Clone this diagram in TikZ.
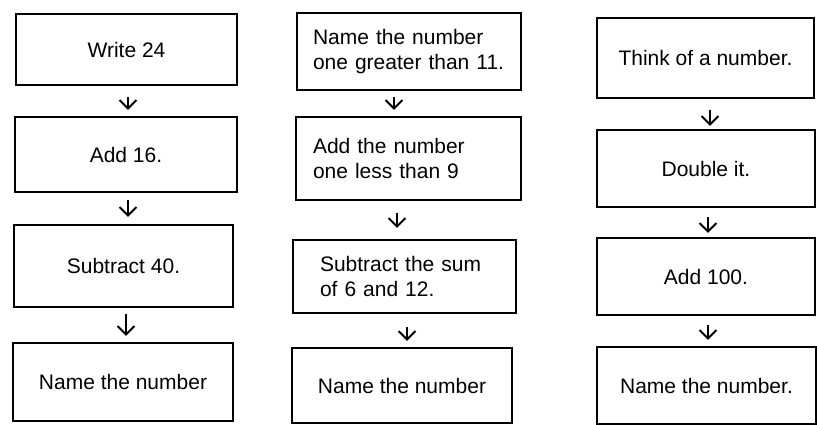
\documentclass[tikz,border=0pt]{standalone}
\usepackage{fontspec}
\setmainfont{Liberation Sans}
\usetikzlibrary{arrows.meta}
\begin{document}
\begin{tikzpicture}[x=1pt,y=-1pt,
  box/.style={draw, line width=2.1pt, inner sep=0pt, align=center,
    font=\fontsize{21}{25}\selectfont},
  lbox/.style={box, align=left},
  arr/.style={-{Straight Barb[length=8.5pt,width=17pt,line width=2pt]}, line width=2pt}]
\useasboundingbox (0,0) rectangle (817,425);
% column 1
\node[box, minimum width=221pt, minimum height=71pt] (A1) at (126.5,49.5) {Write 24};
\node[box, minimum width=222pt, minimum height=75pt] (A2) at (126,154.5) {Add 16.};
\node[box, minimum width=219pt, minimum height=82pt] (A3) at (123.5,266) {Subtract 40.};
\node[box, minimum width=220pt, minimum height=78pt] (A4) at (123,382) {Name the number};
% column 2
\node[lbox, text width=192pt, minimum width=224pt, minimum height=77pt] (B1) at (409,51.5) {Name the number\\one greater than 11.};
\node[lbox, text width=191pt, minimum width=225pt, minimum height=83pt] (B2) at (408.5,158.5) {Add the number\\one less than 9};
\node[lbox, text width=169pt, minimum width=223pt, minimum height=73pt] (B3) at (404.5,276.5) {Subtract the sum\\of 6 and 12.};
\node[box, minimum width=220pt, minimum height=75pt] (B4) at (402,385.5) {Name the number};
% column 3
\node[box, minimum width=217pt, minimum height=80pt] (C1) at (705.5,58) {Think of a number.};
\node[box, minimum width=218pt, minimum height=77pt] (C2) at (706,168.5) {Double it.};
\node[box, minimum width=218pt, minimum height=77pt] (C3) at (706,276.5) {Add 100.};
\node[box, minimum width=219pt, minimum height=77pt] (C4) at (706.5,385.5) {Name the number.};
% arrows column 1
\draw[arr, shorten <=11pt, shorten >=6pt] ([xshift=1.5pt]A1.south) -- ([xshift=1.5pt]A1.south |- A2.north);
\draw[arr, shorten <=7pt, shorten >=7pt] ([xshift=2pt]A2.south) -- ([xshift=2pt]A2.south |- A3.north);
\draw[arr, shorten <=6pt, shorten >=6pt] ([xshift=2.5pt]A3.south) -- ([xshift=2.5pt]A3.south |- A4.north);
% arrows column 2
\draw[arr, shorten <=6pt, shorten >=6pt] ([xshift=-15pt]B1.south) -- ([xshift=-15pt]B1.south |- B2.north);
\draw[arr, shorten <=12pt, shorten >=11pt] ([xshift=-11.5pt]B2.south) -- ([xshift=-11.5pt]B2.south |- B3.north);
\draw[arr, shorten <=13pt, shorten >=6pt] ([xshift=2.5pt]B3.south) -- ([xshift=2.5pt]B3.south |- B4.north);
% arrows column 3
\draw[arr, shorten <=11pt, shorten >=3pt] ([xshift=4.5pt]C1.south) -- ([xshift=4.5pt]C1.south |- C2.north);
\draw[arr, shorten <=9pt, shorten >=4pt] ([xshift=2pt]C2.south) -- ([xshift=2pt]C2.south |- C3.north);
\draw[arr, shorten <=9pt, shorten >=6pt] ([xshift=2pt]C3.south) -- ([xshift=2pt]C3.south |- C4.north);
\end{tikzpicture}
\end{document}
